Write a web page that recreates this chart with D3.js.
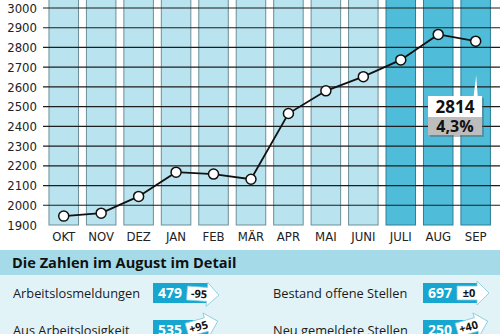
<!DOCTYPE html>
<html><head><meta charset="utf-8">
<script src="https://cdn.jsdelivr.net/npm/d3@7"></script>
<style>
html,body{margin:0;padding:0;background:#fff;}
svg{display:block;}
</style></head>
<body>
<svg id="c" width="500" height="334"></svg>
<script>
const months = ["OKT","NOV","DEZ","JAN","FEB","MÄR","APR","MAI","JUNI","JULI","AUG","SEP"];
const values = [1945,1960,2045,2168,2158,2132,2465,2580,2652,2737,2866,2832];
const highlighted = ["JULI","AUG","SEP"];
const yTicks = [1900,2000,2100,2200,2300,2400,2500,2600,2700,2800,2900,3000];
const calloutValue = "2814";
const calloutRate = "4,3%";
const detailTitle = "Die Zahlen im August im Detail";
const detailLabels = [["Arbeitslosmeldungen"],["Aus Arbeitslosigkeit","abgemeldet"],["Bestand offene Stellen"],["Neu gemeldete Stellen"]];
const detailValues = ["479","535","697","250"];
const detailChanges = ["-95","+95","±0","+40"];

const svg = d3.select("#c");
const condensed = "'Liberation Sans Narrow','DejaVu Sans Condensed','Open Sans',sans-serif";
const sans = "'Open Sans','Noto Sans',sans-serif";

const x = d3.scaleBand().domain(months).range([45, 494.4]).paddingInner(0.212).paddingOuter(0.106);
const y = d3.scaleLinear().domain([1900, 3000]).range([225, 8]);

// bars
svg.append("g").selectAll("rect").data(months).join("rect")
  .attr("x", d => x(d)).attr("width", x.bandwidth())
  .attr("y", -5).attr("height", y(1900) + 5)
  .attr("fill", d => highlighted.includes(d) ? "#4fbcd9" : "#b9e3ef")
  .attr("stroke", d => highlighted.includes(d) ? "#2f7f95" : "#6c8f99")
  .attr("stroke-width", 1);

// gridlines
svg.append("g").selectAll("line").data(yTicks.slice(1)).join("line")
  .attr("x1", 43).attr("x2", 500)
  .attr("y1", d => y(d)).attr("y2", d => y(d))
  .attr("stroke", "#1e1e1e").attr("stroke-width", 1.2);

// y axis labels
const yAxis = svg.append("g").attr("transform", "translate(43,0)")
  .call(d3.axisLeft(y).tickValues(yTicks).tickSize(0).tickPadding(6).tickFormat(d3.format("d")));
yAxis.select(".domain").remove();
yAxis.selectAll("text").attr("font-family", condensed).attr("font-size", 13).attr("fill", "#222");

// x axis labels
const xAxis = svg.append("g").attr("transform", "translate(0,229)")
  .call(d3.axisBottom(x).tickSize(0).tickPadding(3));
xAxis.select(".domain").remove();
xAxis.selectAll("text").attr("font-family", condensed).attr("font-size", 13).attr("fill", "#222");

// line
const cx = d => x(d) + x.bandwidth() / 2;
svg.append("path").datum(values)
  .attr("d", d3.line().x((v, i) => cx(months[i])).y(v => y(v)))
  .attr("fill", "none").attr("stroke", "#111").attr("stroke-width", 1.8);
svg.append("g").selectAll("circle").data(values).join("circle")
  .attr("cx", (v, i) => cx(months[i])).attr("cy", v => y(v)).attr("r", 5)
  .attr("fill", "#fff").attr("stroke", "#111").attr("stroke-width", 1.5);

// callout
const sepX = cx("SEP");
const cg = svg.append("g");
cg.append("path").attr("d", `M${sepX - 2},96 L${sepX + 0.5},${y(values[11]) + 34} L${sepX + 2},96 Z`).attr("fill", "#fff");
cg.append("rect").attr("x", 430).attr("y", 98).attr("width", 54).attr("height", 39).attr("fill", "#555").attr("opacity", 0.4);
cg.append("rect").attr("x", 428).attr("y", 96).attr("width", 54).attr("height", 21).attr("fill", "#fff");
cg.append("rect").attr("x", 428).attr("y", 117).attr("width", 54).attr("height", 18).attr("fill", "#bdbdbd");
cg.append("text").attr("x", 455).attr("y", 113).attr("text-anchor", "middle")
  .attr("font-family", sans).attr("font-weight", 700).attr("font-size", 17).attr("fill", "#111").text(calloutValue);
cg.append("text").attr("x", 455).attr("y", 132).attr("text-anchor", "middle")
  .attr("font-family", sans).attr("font-weight", 700).attr("font-size", 16).attr("fill", "#111").text(calloutRate);

// bottom panel
svg.append("rect").attr("x", 0).attr("y", 250).attr("width", 500).attr("height", 84).attr("fill", "#e2f3f8");
svg.append("rect").attr("x", 0).attr("y", 250).attr("width", 500).attr("height", 25).attr("fill", "#a5dbe9");
svg.append("text").attr("x", 12).attr("y", 268).attr("font-family", sans).attr("font-weight", 700)
  .attr("font-size", 14.6).attr("fill", "#111").text(detailTitle);

const rows = [
  {lx: 13, bx: 153, by: 283, rot: 4},
  {lx: 13, bx: 153, by: 320, rot: -16},
  {lx: 273, bx: 423, by: 283, rot: 0},
  {lx: 273, bx: 423, by: 320, rot: -16}
];
rows.forEach((r, i) => {
  const g = svg.append("g");
  const baseY = r.by + 15;
  detailLabels[i].forEach((t, j) => {
    g.append("text").attr("x", r.lx).attr("y", baseY + j * 17)
      .attr("font-family", sans).attr("font-size", 12.8).attr("fill", "#1a1a1a").text(t);
  });
  g.append("rect").attr("x", r.bx).attr("y", r.by).attr("width", 55).attr("height", 20).attr("fill", "#16a6cf");
  g.append("text").attr("x", r.bx + 5).attr("y", r.by + 15)
    .attr("font-family", sans).attr("font-weight", 700).attr("font-size", 14).attr("fill", "#fff").text(detailValues[i]);
  const ax = r.bx + 34, ay = r.by + 10;
  const ag = g.append("g").attr("transform", `translate(${ax},${ay}) rotate(${r.rot})`);
  ag.append("path").attr("d", "M0,-7 L20,-7 L20,-12 L32,0 L20,12 L20,7 L0,7 Z")
    .attr("fill", "#fff").attr("stroke", "#7fc9de").attr("stroke-width", 0.8);
  ag.append("text").attr("x", 12).attr("y", 4).attr("text-anchor", "middle")
    .attr("font-family", sans).attr("font-weight", 700).attr("font-size", 11).attr("fill", "#111").text(detailChanges[i]);
});
</script>
</body></html>
